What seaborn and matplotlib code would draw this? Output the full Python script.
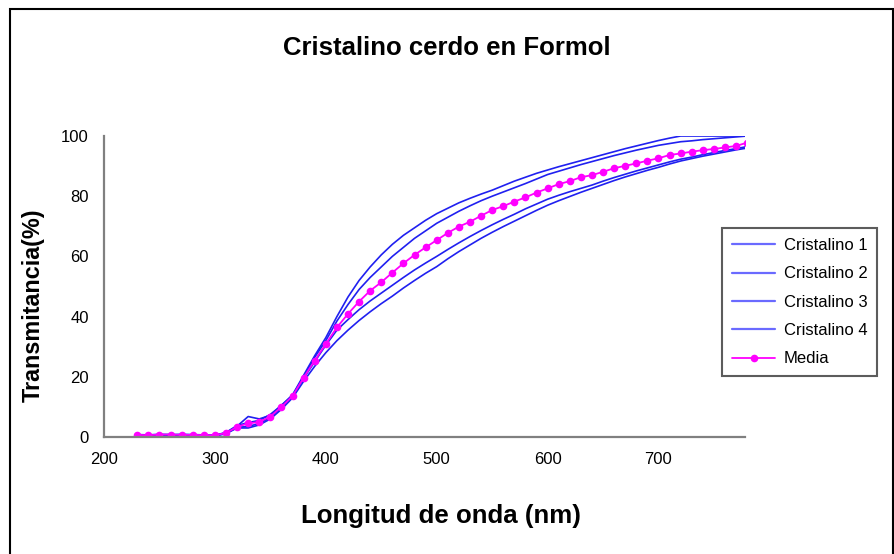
import pandas as pd
import matplotlib
matplotlib.use("Agg")
import matplotlib.pyplot as plt
import seaborn as sns
from matplotlib.patches import Rectangle

# --- data ---
longitud = [230, 240, 250, 260, 270, 280, 290, 300,
            310, 320, 330, 340, 350, 360, 370, 380, 390, 400,
            410, 420, 430, 440, 450, 460, 470, 480, 490, 500,
            510, 520, 530, 540, 550, 560, 570, 580, 590, 600,
            610, 620, 630, 640, 650, 660, 670, 680, 690, 700,
            710, 720, 730, 740, 750, 760, 770, 780]

cristalino_1 = [0.4, 0.5, 0.6, 0.5, 0.6, 0.5, 0.5, 0.6,
                1.5, 3.8, 4.8, 5.5, 7.5, 10.5, 14.0, 20.5, 27.0, 33.0,
                40.0, 46.5, 52.0, 56.5, 60.5, 64.0, 67.0, 69.5, 72.0, 74.2,
                76.0, 77.8, 79.3, 80.7, 82.0, 83.5, 85.0, 86.3, 87.6, 88.7,
                89.8, 90.8, 91.8, 92.8, 93.8, 94.8, 95.8, 96.7, 97.6, 98.5,
                99.3, 100.0, 100.0, 100.0, 100.0, 100.0, 100.0, 100.0]

cristalino_2 = [0.6, 0.5, 0.7, 0.8, 0.6, 0.7, 0.5, 0.5,
                1.4, 3.6, 6.8, 6.0, 7.2, 10.5, 13.8, 20.0, 26.5, 32.0,
                38.5, 44.0, 49.0, 53.0, 56.5, 60.0, 63.0, 66.0, 68.5, 71.0,
                73.0, 75.0, 76.8, 78.5, 80.0, 81.4, 82.8, 84.2, 85.7, 87.2,
                88.3, 89.4, 90.5, 91.5, 92.5, 93.5, 94.4, 95.3, 96.1, 96.9,
                97.5, 98.1, 98.4, 98.8, 99.1, 99.4, 99.7, 100.0]

cristalino_3 = [0.8, 0.7, 0.9, 0.8, 0.9, 0.8, 0.7, 0.6,
                1.2, 3.2, 3.5, 4.5, 6.5, 9.8, 13.5, 19.5, 25.0, 30.5,
                35.5, 39.0, 42.3, 45.2, 47.8, 50.4, 53.0, 55.5, 57.8, 60.0,
                62.3, 64.5, 66.6, 68.6, 70.5, 72.3, 74.0, 75.8, 77.4, 79.0,
                80.3, 81.5, 82.6, 83.7, 85.0, 86.2, 87.3, 88.4, 89.4, 90.4,
                91.4, 92.3, 93.0, 93.8, 94.5, 95.2, 95.8, 96.5]

cristalino_4 = [0.3, 0.4, 0.5, 0.4, 0.3, 0.4, 0.4, 0.3,
                1.1, 3.0, 3.0, 4.0, 6.0, 9.2, 13.0, 18.5, 23.5, 28.0,
                32.0, 35.5, 38.7, 41.6, 44.3, 46.8, 49.5, 52.0, 54.4, 56.6,
                59.2, 61.6, 63.8, 66.0, 68.0, 69.9, 71.7, 73.5, 75.3, 77.0,
                78.5, 79.9, 81.3, 82.6, 83.9, 85.2, 86.4, 87.5, 88.6, 89.6,
                90.7, 91.7, 92.5, 93.3, 94.0, 94.7, 95.4, 96.0]

media = [0.7, 0.6, 0.8, 0.8, 0.7, 0.7, 0.6, 0.6,
         1.3, 3.4, 4.5, 5.0, 6.8, 10.0, 13.6, 19.7, 25.4, 30.9,
         36.4, 40.9, 45.0, 48.6, 51.4, 54.6, 57.7, 60.5, 63.0, 65.4,
         67.8, 69.9, 71.5, 73.5, 75.4, 76.7, 78.2, 79.6, 81.2, 82.6,
         84.0, 85.0, 86.3, 87.0, 88.1, 89.3, 90.1, 90.9, 91.8, 92.6,
         93.7, 94.2, 94.8, 95.3, 95.7, 96.2, 96.7, 97.8]

x_ticks = [200, 300, 400, 500, 600, 700]
y_ticks = [0, 20, 40, 60, 80, 100]

sns.set_style("white")
plt.rcParams["font.family"] = ["Liberation Sans", "DejaVu Sans"]
plt.rcParams["text.color"] = "black"

df = pd.DataFrame({
    "longitud": longitud,
    "Cristalino 1": cristalino_1,
    "Cristalino 2": cristalino_2,
    "Cristalino 3": cristalino_3,
    "Cristalino 4": cristalino_4,
})
long_df = df.melt(id_vars="longitud", var_name="serie", value_name="T")
media_df = pd.DataFrame({"longitud": longitud, "T": media})

fig = plt.figure(figsize=(8.95, 5.54), dpi=100)
ax = fig.add_axes([0.1162, 0.2112, 0.7162, 0.5433])

blue = "#2020f0"
sns.lineplot(data=long_df, x="longitud", y="T", hue="serie",
             palette=[blue] * 4, linewidth=1.2, ax=ax, sort=False)
sns.lineplot(data=media_df, x="longitud", y="T", color="#ff00ff",
             marker="o", markersize=5.5, markeredgewidth=0, linewidth=1.3,
             label="Media", ax=ax)

ax.set_xlim(200, 778)
ax.set_ylim(0, 100)
ax.set_xticks(x_ticks)
ax.set_yticks(y_ticks)
ax.set_xlabel("")
ax.set_ylabel("")
for side in ["top", "right"]:
    ax.spines[side].set_visible(False)
for side in ["left", "bottom"]:
    ax.spines[side].set_color("#808080")
    ax.spines[side].set_linewidth(1.6)
ax.tick_params(axis="both", direction="out", length=5, width=1.2,
               color="#808080", labelsize=12, labelcolor="black", pad=6)

# --- legend ---
handles, labels = ax.get_legend_handles_labels()
leg = ax.legend(handles, labels, loc="upper left",
                bbox_to_anchor=(0.8067, 0.5884), bbox_transform=fig.transFigure,
                borderaxespad=0, fontsize=12, frameon=True, fancybox=False,
                handlelength=2.6, labelspacing=0.8, borderpad=0.6,
                handletextpad=0.5, labelcolor="black")
leg.get_frame().set_edgecolor("#333333")
leg.get_frame().set_linewidth(1.5)
for h in leg.get_lines()[:4]:
    h.set_color("#6a6aff")
    h.set_linewidth(1.6)

# --- texts ---
fig.text(447 / 895, 1 - 48 / 554, "Cristalino cerdo en Formol",
         ha="center", va="center", fontsize=18.5, fontweight="bold")
fig.text(441 / 895, 1 - 516 / 554, "Longitud de onda (nm)",
         ha="center", va="center", fontsize=18.6, fontweight="bold")
fig.text(33 / 895, 1 - 305 / 554, "Transmitancia(%)",
         ha="center", va="center", rotation=90, fontsize=16.8, fontweight="bold")

# outer frame
fig.patches.append(Rectangle((0.011, -0.02), 0.987, 1.004,
                             transform=fig.transFigure, fill=False,
                             ec="black", lw=1.5))

fig.savefig("out.png", dpi=100)
